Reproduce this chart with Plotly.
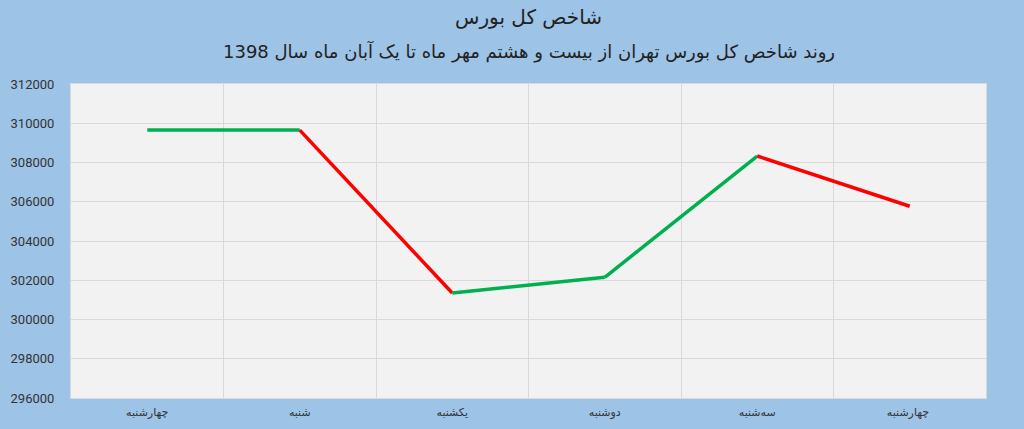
import plotly.graph_objects as go

days = ["چهارشنبه", "شنبه", "یکشنبه", "دوشنبه", "سه‌شنبه", "چهارشنبه "]
values = [309650, 309650, 301350, 302150, 308330, 305770]
title_main = "شاخص کل بورس"
title_sub = "روند شاخص کل بورس تهران از بیست و هشتم مهر ماه تا یک آبان ماه سال 1398"

fig = go.Figure()
for i in range(len(values) - 1):
    color = "#00B050" if values[i + 1] >= values[i] else "#FF0000"
    fig.add_trace(go.Scatter(
        x=[days[i], days[i + 1]], y=[values[i], values[i + 1]],
        mode="lines", line=dict(color=color, width=3.5),
        showlegend=False, hoverinfo="skip"))

fig.add_annotation(text=title_main, xref="paper", yref="paper", x=0.5, y=1,
                   xanchor="center", yanchor="bottom", yshift=53, showarrow=False,
                   font=dict(size=20, color="#222", family="DejaVu Sans"))
fig.add_annotation(text=title_sub, xref="paper", yref="paper", x=0.5, y=1,
                   xanchor="center", yanchor="bottom", yshift=19, showarrow=False,
                   font=dict(size=18, color="#222", family="DejaVu Sans"))

fig.update_layout(
    width=1024, height=429,
    margin=dict(l=71, r=38, t=84, b=31),
    paper_bgcolor="#9DC3E6", plot_bgcolor="#F2F2F2",
    font=dict(family="DejaVu Sans", color="#333"),
    xaxis=dict(type="category", categoryorder="array", categoryarray=days,
               tickson="boundaries", showgrid=True, gridcolor="#D9D9D9",
               ticks="", ticklabelstandoff=4, automargin=False,
               tickfont=dict(size=11, color="#333"),
               showline=True, linecolor="#D9D9D9", mirror=True,
               range=[-0.5, 5.5], zeroline=False),
    yaxis=dict(range=[296000, 312000], dtick=2000, showgrid=True, automargin=False,
               gridcolor="#D9D9D9", tickfont=dict(size=13, color="#333", family="Roboto"),
               tickformat="d", showline=True, linecolor="#D9D9D9", mirror=True,
               zeroline=False, ticks="outside", ticklen=13, tickcolor="rgba(0,0,0,0)"),
)
fig.write_html("out.html", post_script="document.body.style.margin='0';",
               config={"displayModeBar": False})
